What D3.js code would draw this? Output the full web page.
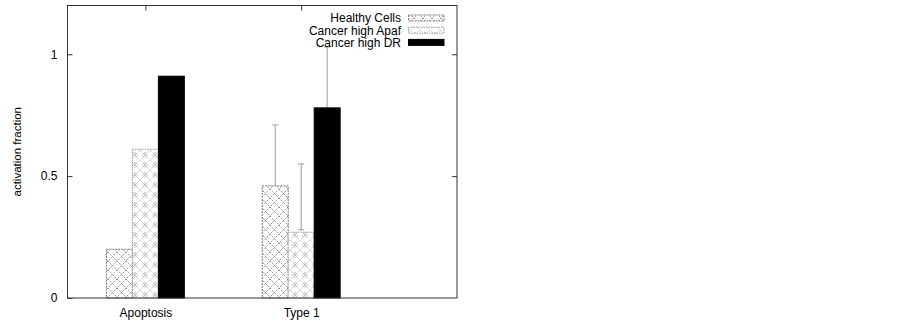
<!DOCTYPE html>
<html><head><meta charset="utf-8">
<script src="https://cdn.jsdelivr.net/npm/d3@7"></script>
<style>body{margin:0;background:#fff}svg{display:block}text{font-family:"Liberation Sans",Arial,sans-serif}</style>
</head><body><div id="c"></div>
<script>
const categories = ["Apoptosis", "Type 1"];
const seriesNames = ["Healthy Cells", "Cancer high Apaf", "Cancer high DR"];
const healthy = [0.20, 0.46];
const apaf = [0.61, 0.27];
const dr = [0.91, 0.78];
// error bar extents [low, high] (null = none)
const healthyErr = [null, [0.25, 0.71]];
const apafErr = [null, [0.28, 0.55]];
const drErr = [null, [0.53, 1.03]];
const yTicks = [0, 0.5, 1];

const W = 902, H = 324;
const svg = d3.select("#c").append("svg").attr("width", W).attr("height", H);
svg.append("rect").attr("width", W).attr("height", H).attr("fill", "#fff");

const pLeft = 67.5, pRight = 457, pTop = 5.5, pBottom = 298;
const x = d3.scaleLinear().domain([-0.5, 2]).range([pLeft, pRight]);
const y = d3.scaleLinear().domain([0, 1.2]).range([pBottom, pTop]);
const bw = 1 / 6;

const defs = svg.append("defs");
const p1 = defs.append("pattern").attr("id", "p1").attr("patternUnits", "userSpaceOnUse")
  .attr("width", 9).attr("height", 9);
p1.append("rect").attr("width", 9).attr("height", 9).attr("fill", "#fff");
p1.append("path").attr("d", "M0,0L9,9M9,0L0,9").attr("stroke", "#777").attr("stroke-width", 0.8)
  .attr("stroke-dasharray", "1.5,1").attr("fill", "none");
const p2 = defs.append("pattern").attr("id", "p2").attr("patternUnits", "userSpaceOnUse")
  .attr("width", 10).attr("height", 10);
p2.append("rect").attr("width", 10).attr("height", 10).attr("fill", "#fff");
p2.append("path").attr("d", "M0,0L10,10M10,0L0,10M5,2L8,5L5,8L2,5Z").attr("stroke", "#999").attr("stroke-width", 0.7)
  .attr("stroke-dasharray", "1,1").attr("fill", "none");
p2.append("circle").attr("cx", 5).attr("cy", 5).attr("r", 1).attr("fill", "none").attr("stroke", "#aaa").attr("stroke-width", 0.6);

const series = [
  {name: seriesNames[0], vals: healthy, err: healthyErr, fill: "url(#p1)", stroke: "#777", dash: "2,1"},
  {name: seriesNames[1], vals: apaf, err: apafErr, fill: "url(#p2)", stroke: "#999", dash: "1.5,1"},
  {name: seriesNames[2], vals: dr, err: drErr, fill: "#000", stroke: "#000", dash: null}
];

// error bars first (bars drawn over them)
series.forEach((s, si) => {
  const off = (si - 1) * bw;
  s.err.forEach((e, i) => {
    if (!e) return;
    const cx = x(i + off);
    const g = svg.append("g").attr("stroke", "#999").attr("stroke-width", 1);
    g.append("line").attr("x1", cx).attr("x2", cx).attr("y1", y(e[0])).attr("y2", y(e[1]));
    g.append("line").attr("x1", cx - 3).attr("x2", cx + 3).attr("y1", y(e[0])).attr("y2", y(e[0]));
    g.append("line").attr("x1", cx - 3).attr("x2", cx + 3).attr("y1", y(e[1])).attr("y2", y(e[1]));
  });
});
series.forEach((s, si) => {
  const off = (si - 1) * bw;
  svg.append("g").selectAll("rect").data(s.vals).join("rect")
    .attr("x", (d, i) => x(i + off - bw / 2))
    .attr("width", x(bw) - x(0))
    .attr("y", d => y(d))
    .attr("height", d => y(0) - y(d))
    .attr("fill", s.fill)
    .attr("stroke", s.stroke).attr("stroke-width", 1)
    .attr("stroke-dasharray", s.dash);
});

svg.append("rect").attr("x", pLeft).attr("y", pTop).attr("width", pRight - pLeft).attr("height", pBottom - pTop)
  .attr("fill", "none").attr("stroke", "#333").attr("stroke-width", 1);

const yAxis = d3.axisLeft(y).tickValues(yTicks).tickFormat(d3.format("")).tickSizeInner(-5).tickSizeOuter(0).tickPadding(10);
const ya = svg.append("g").attr("transform", `translate(${pLeft},0)`).call(yAxis);
ya.select(".domain").remove();
ya.selectAll("line").attr("stroke", "#333");
ya.selectAll("text").attr("font-size", 12).attr("fill", "#000");
const yr = svg.append("g").attr("transform", `translate(${pRight},0)`).call(d3.axisRight(y).tickValues(yTicks.slice(1)).tickSize(-5).tickFormat(""));
yr.select(".domain").remove();
yr.selectAll("line").attr("stroke", "#333");

const xa = svg.append("g").attr("transform", `translate(0,${pBottom})`)
  .call(d3.axisBottom(x).tickValues([0, 1]).tickFormat(i => categories[i]).tickSize(0).tickPadding(10));
xa.select(".domain").remove();
xa.selectAll("text").attr("font-size", 12).attr("fill", "#000");
const xt = svg.append("g").attr("transform", `translate(0,${pTop})`)
  .call(d3.axisBottom(x).tickValues([0, 1]).tickSize(5).tickFormat(""));
xt.select(".domain").remove();
xt.selectAll("line").attr("stroke", "#333");

svg.append("text").attr("transform", `translate(21,${(pTop + pBottom) / 2}) rotate(-90)`)
  .attr("text-anchor", "middle").attr("font-size", 11.5).attr("fill", "#000").text("activation fraction");

const lg = svg.append("g");
series.forEach((s, si) => {
  const ly = 18 + si * 12.2;
  lg.append("text").attr("x", 401).attr("y", ly + 4.3).attr("text-anchor", "end").attr("font-size", 12).attr("fill", "#000").text(s.name);
  lg.append("rect").attr("x", 408.5).attr("y", ly - 3).attr("width", 35.5).attr("height", 6)
    .attr("fill", s.fill).attr("stroke", s.stroke).attr("stroke-dasharray", s.dash);
});
</script></body></html>
